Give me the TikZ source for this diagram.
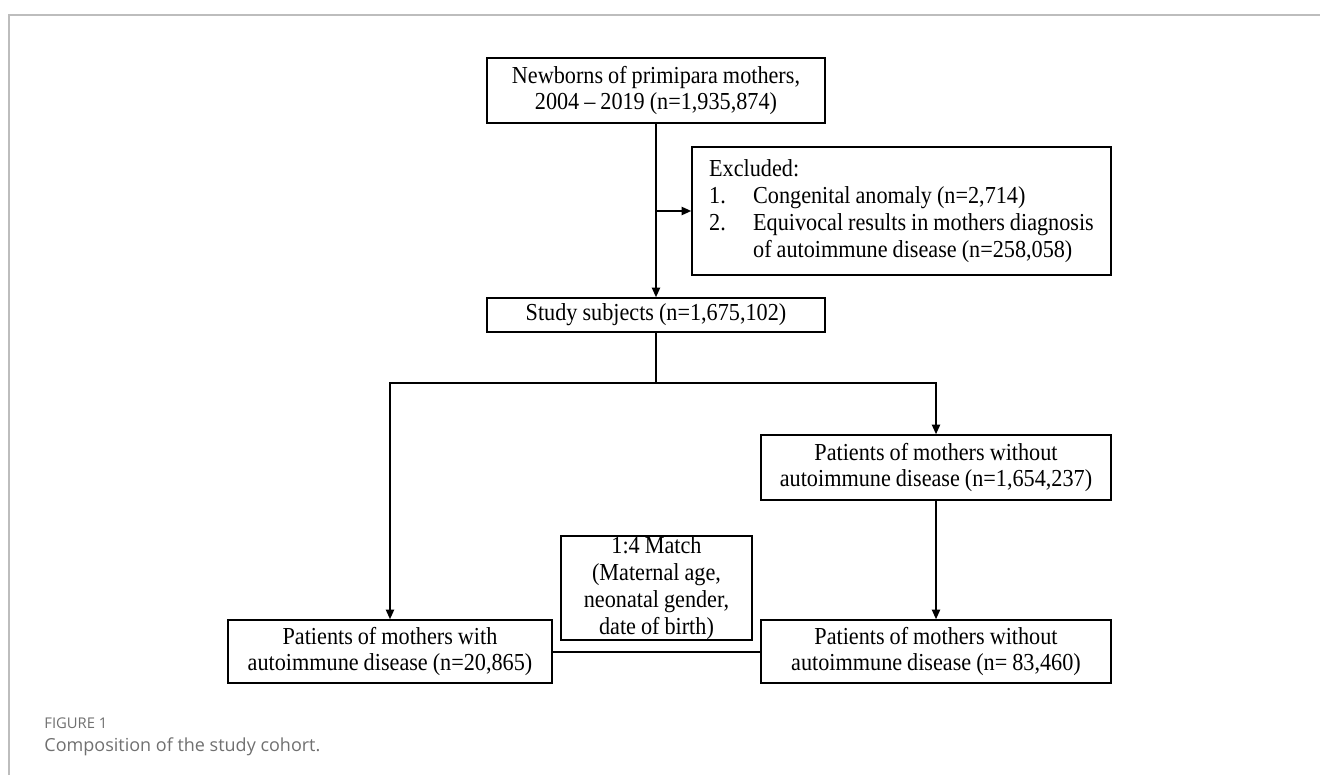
\documentclass[tikz,border=0pt]{standalone}
\usepackage{fontspec}
\setmainfont{Liberation Serif}[FakeStretch=0.91, WordSpace=0.9]
\newfontfamily\capfont{Open Sans}
\usepackage{xcolor}
\usetikzlibrary{arrows.meta, calc}
\definecolor{framegray}{HTML}{BDBDBD}
\definecolor{capgray}{HTML}{707070}

\begin{document}
\begin{tikzpicture}[x=0.5pt, y=-0.5pt,
    flowbox/.style={draw, line width=0.7pt, align=center, inner sep=0pt, font=\fontsize{12.2}{13.4}\selectfont},
    link/.style={line width=1pt, -{Triangle[length=4.8pt,width=4pt]}},
    caption/.style={anchor=west, inner sep=0pt, text=capgray}]
  \useasboundingbox (0,0) rectangle (1320,775);
  % open frame, top and left
  \draw[framegray, line width=0.8pt] (9,775) -- (9,15) -- (1320,15);

  \node[flowbox, minimum width=169pt, minimum height=32.5pt] (newborns) at (656,90.5) {Newborns of primipara mothers,\\2004 – 2019 (n=1,935,874)};
  \node[flowbox, align=left, minimum width=209.5pt, minimum height=64pt] (excluded) at (901.5,211)
    {Excluded:\\\makebox[22pt][l]{1.}Congenital anomaly (n=2,714)\\\makebox[22pt][l]{2.}Equivocal results in mothers diagnosis\\\hspace*{22pt}of autoimmune disease (n=258,058)};
  \node[flowbox, minimum width=169pt, minimum height=17pt] (study) at (656,315) {Study subjects (n=1,675,102)};
  \node[flowbox, minimum width=175pt, minimum height=32.5pt] (withouta) at (936,467.5) {Patients of mothers without\\autoimmune disease (n=1,654,237)};
  \node[flowbox, minimum width=175pt, minimum height=31.5pt] (withoutb) at (936,651.5) {Patients of mothers without\\autoimmune disease (n= 83,460)};
  \node[flowbox, minimum width=162pt, minimum height=31.5pt] (withai) at (390,651.5) {Patients of mothers with\\autoimmune disease (n=20,865)};
  \node[flowbox, minimum width=95.5pt, minimum height=52pt] (match) at (656.5,588) {1:4 Match\\(Maternal age,\\neonatal gender,\\date of birth)};
  \coordinate (split) at (656,383);

  \draw[link] (newborns) -- (study);
  \draw[link] (newborns.south |- excluded.west) -- (excluded.west);
  \draw[line width=1pt] (study.south) -- (split);
  \draw[link] (split) -| (withai.north);
  \draw[link] (split) -| (withouta.north);
  \draw[link] (withouta) -- (withoutb);
  \draw[line width=1pt] (withai.east) -- (withoutb.west);

  \node[caption, font=\capfont\fontsize{7.4}{9}\selectfont] (figlabel) at (44,723) {FIGURE 1};
  \node[caption, font=\capfont\fontsize{9}{11}\selectfont] (figcaption) at (44,747) {Composition of the study cohort.};
\end{tikzpicture}
\end{document}
